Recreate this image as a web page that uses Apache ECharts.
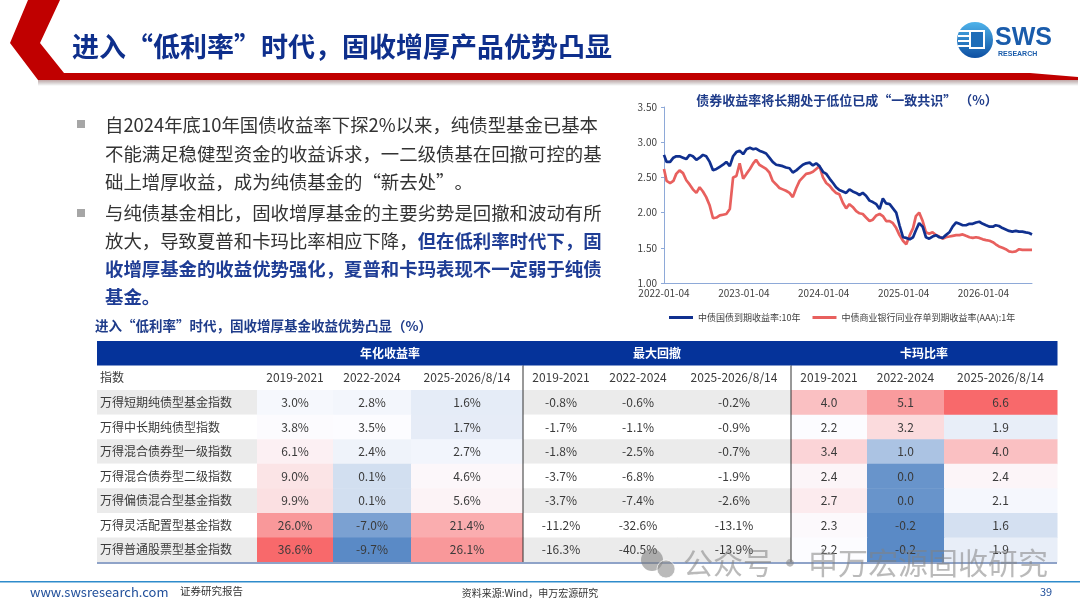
<!DOCTYPE html>
<html>
<head>
<meta charset="utf-8">
<script src="https://cdn.jsdelivr.net/npm/echarts@6/dist/echarts.min.js"></script>
<style>
  html, body { margin: 0; padding: 0; background: #fff; }
  #main { width: 1080px; height: 608px; }
</style>
</head>
<body>
<div id="main"></div>
<script>
const CJK = "'Noto Sans CJK SC', 'Noto Sans', sans-serif";

// line chart: half-monthly readings of the two yield curves (%)
const rateDates = [
  '2022-01-04','2022-01-16','2022-02-01','2022-02-16','2022-03-01','2022-03-16','2022-04-01','2022-04-16','2022-05-01','2022-05-16','2022-06-01','2022-06-16',
  '2022-07-01','2022-07-16','2022-08-01','2022-08-16','2022-09-01','2022-09-16','2022-10-01','2022-10-16','2022-11-01','2022-11-16','2022-12-01','2022-12-16',
  '2023-01-01','2023-01-16','2023-02-01','2023-02-16','2023-03-01','2023-03-16','2023-04-01','2023-04-16','2023-05-01','2023-05-16','2023-06-01','2023-06-16',
  '2023-07-01','2023-07-16','2023-08-01','2023-08-16','2023-09-01','2023-09-16','2023-10-01','2023-10-16','2023-11-01','2023-11-16','2023-12-01','2023-12-16',
  '2024-01-01','2024-01-16','2024-02-01','2024-02-16','2024-03-01','2024-03-16','2024-04-01','2024-04-16','2024-05-01','2024-05-16','2024-06-01','2024-06-16',
  '2024-07-01','2024-07-16','2024-08-01','2024-08-16','2024-09-01','2024-09-16','2024-10-01','2024-10-16','2024-11-01','2024-11-16','2024-12-01','2024-12-16',
  '2025-01-01','2025-01-16','2025-02-01','2025-02-16','2025-03-01','2025-03-16','2025-04-01','2025-04-16','2025-05-01','2025-05-16','2025-06-01','2025-06-16',
  '2025-07-01','2025-07-16','2025-08-01','2025-08-16','2025-09-01','2025-09-16','2025-10-01','2025-10-16','2025-11-01','2025-11-16','2025-12-01','2025-12-16',
  '2026-01-01','2026-01-16','2026-02-01','2026-02-16','2026-03-01','2026-03-16','2026-04-01','2026-04-16','2026-05-01','2026-05-16','2026-06-01','2026-06-16',
  '2026-07-01','2026-07-16','2026-08-01','2026-08-14'
];
const cgb10y = [
  2.82,2.72,2.72,2.78,2.80,2.80,2.78,2.76,2.82,2.80,2.75,2.78,2.82,2.80,2.72,2.60,2.62,2.65,2.68,2.72,2.66,2.80,2.86,2.88,
  2.83,2.90,2.92,2.90,2.91,2.88,2.86,2.84,2.78,2.72,2.68,2.67,2.66,2.64,2.63,2.57,2.60,2.64,2.68,2.70,2.71,2.67,2.70,2.66,
  2.58,2.55,2.48,2.42,2.36,2.32,2.30,2.28,2.33,2.30,2.28,2.25,2.28,2.24,2.17,2.15,2.12,2.05,2.20,2.13,2.12,2.06,2.00,1.82,
  1.65,1.64,1.62,1.65,1.75,1.85,1.80,1.65,1.63,1.66,1.68,1.65,1.64,1.68,1.72,1.80,1.86,1.84,1.82,1.82,1.84,1.84,1.86,1.87,
  1.84,1.82,1.80,1.80,1.82,1.81,1.78,1.76,1.74,1.73,1.74,1.73,1.73,1.72,1.71,1.69
];
const ncd1y = [
  2.62,2.45,2.42,2.45,2.55,2.60,2.56,2.46,2.40,2.33,2.28,2.36,2.30,2.22,2.10,1.92,1.93,1.96,1.97,1.98,2.05,2.50,2.52,2.70,
  2.48,2.55,2.62,2.70,2.75,2.68,2.65,2.62,2.57,2.45,2.40,2.35,2.33,2.31,2.28,2.22,2.35,2.45,2.50,2.55,2.56,2.58,2.62,2.66,
  2.50,2.42,2.38,2.32,2.28,2.26,2.14,2.06,2.12,2.08,2.02,1.99,1.98,1.93,1.88,1.90,1.96,1.98,1.95,1.88,1.88,1.85,1.78,1.68,
  1.60,1.55,1.68,1.78,1.95,2.00,1.88,1.72,1.70,1.72,1.68,1.66,1.63,1.65,1.66,1.67,1.68,1.68,1.69,1.67,1.65,1.64,1.65,1.64,
  1.62,1.61,1.60,1.58,1.55,1.52,1.50,1.48,1.45,1.44,1.45,1.48,1.47,1.47,1.47,1.47
];
const seriesNames = ['中债国债到期收益率:10年', '中债商业银行同业存单到期收益率(AAA):1年'];
const xTickLabels = ['2022-01-04', '2023-01-04', '2024-01-04', '2025-01-04', '2026-01-04'];
const yMin = 1, yMax = 3.5, yStep = 0.5;

// table
const groupNames = ['年化收益率', '最大回撤', '卡玛比率'];
const periods = ['2019-2021', '2022-2024', '2025-2026/8/14'];
const indexNames = ['万得短期纯债型基金指数', '万得中长期纯债型指数', '万得混合债券型一级指数', '万得混合债券型二级指数',
  '万得偏债混合型基金指数', '万得灵活配置型基金指数', '万得普通股票型基金指数'];
const annualReturn = [[3.0, 2.8, 1.6], [3.8, 3.5, 1.7], [6.1, 2.4, 2.7], [9.0, 0.1, 4.6], [9.9, 0.1, 5.6], [26.0, -7.0, 21.4], [36.6, -9.7, 26.1]];
const maxDrawdown = [[-0.8, -0.6, -0.2], [-1.7, -1.1, -0.9], [-1.8, -2.5, -0.7], [-3.7, -6.8, -1.9], [-3.7, -7.4, -2.6], [-11.2, -32.6, -13.1], [-16.3, -40.5, -13.9]];
const calmarRatio = [[4.0, 5.1, 6.6], [2.2, 3.2, 1.9], [3.4, 1.0, 4.0], [2.4, 0.0, 2.4], [2.7, 0.0, 2.1], [2.3, -0.2, 1.6], [2.2, -0.2, 1.9]];

// table layout (px inside the table)
const colEdges = [0, 160, 236, 314, 426, 502, 580, 694, 770, 847, 960];
const groupStart = [1, 4, 7];
const heatColors = ['#5A8AC6', '#FCFCFF', '#F8696B'];

// 3-colour scale with the median as white point
function midScale(values) {
  const s = values.slice().sort((a, b) => a - b);
  const lo = s[0], hi = s[s.length - 1], n = s.length;
  const mid = n % 2 ? s[(n - 1) / 2] : (s[n / 2 - 1] + s[n / 2]) / 2;
  return v => v <= mid ? 0.5 * (v - lo) / (mid - lo) : 0.5 + 0.5 * (v - mid) / (hi - mid);
}
const retScale = midScale(annualReturn.flat());
const calScale = midScale(calmarRatio.flat());

const xStart = Date.parse(rateDates[0]);
const xEnd = Date.parse(rateDates[rateDates.length - 1]);
const yearMs = 365.25 * 24 * 3600 * 1000;

function box(api, c0, c1, row, rows) {
  const p0 = api.coord([colEdges[c0], row]);
  const p1 = api.coord([colEdges[c1], row + (rows || 1)]);
  return { x: p0[0], y: p0[1], width: p1[0] - p0[0], height: p1[1] - p0[1] };
}
function label(b, text, opt) {
  opt = opt || {};
  const left = opt.align === 'left';
  return {
    type: 'text',
    style: {
      text: text,
      x: left ? b.x + 3 : b.x + b.width / 2,
      y: b.y + b.height / 2,
      align: left ? 'left' : 'center', textAlign: left ? 'left' : 'center',
      verticalAlign: 'middle', textVerticalAlign: 'middle',
      fill: opt.color || '#3a3a3a',
      font: (opt.weight || 'normal') + ' ' + (opt.size || 12) + 'px ' + CJK
    }
  };
}
function tableSeries(data, renderItem) {
  return {
    type: 'custom', coordinateSystem: 'cartesian2d', xAxisIndex: 1, yAxisIndex: 1,
    encode: { x: 0, y: 1 }, silent: true, clip: false, data: data, renderItem: renderItem
  };
}

const bandData = groupNames.map((g, i) => [i, 0]);
const headText = ['指数'].concat(periods, periods, periods);
const headData = headText.map((t, i) => [i, 1]);
const nameData = indexNames.map((n, r) => [0, r + 2]);
const retData = [], ddData = [], calData = [];
annualReturn.forEach((row, r) => row.forEach((v, c) => retData.push([1 + c, r + 2, v, retScale(v)])));
maxDrawdown.forEach((row, r) => row.forEach((v, c) => ddData.push([4 + c, r + 2, v])));
calmarRatio.forEach((row, r) => row.forEach((v, c) => calData.push([7 + c, r + 2, v, calScale(v)])));

const stripe = row => (row % 2 === 0 ? '#EBEBEB' : '#FFFFFF');

const option = {
  animation: false,
  backgroundColor: '#ffffff',
  grid: [
    { left: 664, top: 107, width: 368, height: 176 },
    { left: 97, top: 341, width: 960, height: 221 }
  ],
  xAxis: [
    {
      type: 'value', gridIndex: 0, min: xStart, max: xEnd, interval: yearMs,
      axisLine: { lineStyle: { color: '#8EA9D8', width: 1 } },
      axisTick: { show: false },
      splitLine: { show: false },
      axisLabel: {
        color: '#404040', fontSize: 10, fontFamily: CJK, margin: 5, showMaxLabel: false,
        formatter: v => xTickLabels[Math.round((v - xStart) / yearMs)] || ''
      }
    },
    { type: 'value', gridIndex: 1, min: 0, max: 960, show: false }
  ],
  yAxis: [
    {
      type: 'value', gridIndex: 0, min: yMin, max: yMax, interval: yStep,
      axisLine: { show: true, lineStyle: { color: '#8EA9D8', width: 1 } },
      axisTick: { show: true, length: 3, lineStyle: { color: '#8EA9D8' } },
      splitLine: { show: false },
      axisLabel: { color: '#404040', fontSize: 10, fontFamily: CJK, margin: 7, formatter: v => v.toFixed(2) }
    },
    { type: 'value', gridIndex: 1, min: 0, max: 9, inverse: true, show: false }
  ],
  legend: {
    data: seriesNames, left: 664, top: 308, icon: 'rect', itemWidth: 24, itemHeight: 3, itemGap: 12,
    textStyle: { fontSize: 9, color: '#404040', fontFamily: CJK }
  },
  visualMap: [
    { type: 'continuous', show: false, seriesIndex: 5, dimension: 3, min: 0, max: 1, inRange: { color: heatColors } },
    { type: 'continuous', show: false, seriesIndex: 7, dimension: 3, min: 0, max: 1, inRange: { color: heatColors } }
  ],
  series: [
    {
      name: seriesNames[0], type: 'line', xAxisIndex: 0, yAxisIndex: 0, showSymbol: false, symbol: 'none',
      lineStyle: { color: '#10308F', width: 2.7 }, itemStyle: { color: '#10308F' }, z: 4,
      data: rateDates.map((d, i) => [Date.parse(d), cgb10y[i]])
    },
    {
      name: seriesNames[1], type: 'line', xAxisIndex: 0, yAxisIndex: 0, showSymbol: false, symbol: 'none',
      lineStyle: { color: '#E8605E', width: 2.7 }, itemStyle: { color: '#E8605E' }, z: 3,
      data: rateDates.map((d, i) => [Date.parse(d), ncd1y[i]])
    },
    tableSeries(bandData, function (params, api) {
      const g = api.value(0), gs = groupStart[g];
      const full = box(api, g === 0 ? 0 : gs, gs + 3, 0);
      const b = box(api, gs, gs + 3, 0);
      return { type: 'group', children: [
        { type: 'rect', shape: { x: full.x, y: full.y, width: full.width + 0.5, height: full.height }, style: { fill: '#05339A' } },
        label(b, groupNames[g], { color: '#ffffff', weight: 'bold', size: 12 })
      ] };
    }),
    tableSeries(headData, function (params, api) {
      const c = api.value(0);
      const b = box(api, c, c + 1, 1);
      return label(b, headText[params.dataIndex], { align: c === 0 ? 'left' : 'center', size: 12 });
    }),
    tableSeries(nameData, function (params, api) {
      const row = api.value(1);
      const b = box(api, 0, 1, row);
      return { type: 'group', children: [
        { type: 'rect', shape: b, style: { fill: stripe(row) } },
        label(b, indexNames[params.dataIndex], { align: 'left', size: 12 })
      ] };
    }),
    tableSeries(retData, function (params, api) {
      const c = api.value(0), row = api.value(1);
      const b = box(api, c, c + 1, row);
      return { type: 'group', children: [
        { type: 'rect', shape: { x: b.x, y: b.y, width: b.width + 0.5, height: b.height + 0.5 }, style: { fill: api.visual('color') } },
        label(b, api.value(2).toFixed(1) + '%')
      ] };
    }),
    tableSeries(ddData, function (params, api) {
      const c = api.value(0), row = api.value(1);
      const b = box(api, c, c + 1, row);
      return { type: 'group', children: [
        { type: 'rect', shape: { x: b.x, y: b.y, width: b.width + 0.5, height: b.height }, style: { fill: stripe(row) } },
        label(b, api.value(2).toFixed(1) + '%')
      ] };
    }),
    tableSeries(calData, function (params, api) {
      const c = api.value(0), row = api.value(1);
      const b = box(api, c, c + 1, row);
      return { type: 'group', children: [
        { type: 'rect', shape: { x: b.x, y: b.y, width: b.width + 0.5, height: b.height + 0.5 }, style: { fill: api.visual('color') } },
        label(b, api.value(2).toFixed(1))
      ] };
    }),
    tableSeries([[4, 1], [7, 1], [0, 9]], function (params, api) {
      const c = api.value(0), row = api.value(1);
      if (row === 9) {
        const a = api.coord([colEdges[0], 9]), z = api.coord([colEdges[colEdges.length - 1], 9]);
        return { type: 'line', shape: { x1: a[0], y1: a[1] + 1, x2: z[0], y2: z[1] + 1 }, style: { stroke: '#8FA3C8', lineWidth: 2 } };
      }
      const a = api.coord([colEdges[c], 1]), z = api.coord([colEdges[c], 9]);
      return { type: 'line', shape: { x1: a[0], y1: a[1], x2: z[0], y2: z[1] }, style: { stroke: '#333333', lineWidth: 1 } };
    })
  ],
  graphic: [
    // header decoration
    { type: 'polygon', shape: { points: [[28, 0], [60, 0], [40, 43], [64, 73], [1030, 73], [1078, 77], [1078, 80], [38, 80], [10, 43]] }, style: { fill: '#C00000' } },
    { type: 'rect', shape: { x: 38, y: 80, width: 1040, height: 6 }, style: { fill: { type: 'linear', x: 0, y: 0, x2: 0, y2: 1, colorStops: [{ offset: 0, color: 'rgba(80,0,0,0.35)' }, { offset: 1, color: 'rgba(0,0,0,0)' }] } } },
    { type: 'text', style: { text: '进入“低利率”时代，固收增厚产品优势凸显', x: 72, y: 47, align: 'left', textAlign: 'left', verticalAlign: 'middle', textVerticalAlign: 'middle', font: 'bold 27px ' + CJK, fill: '#0E2F8C' } },
    // logo
    { type: 'circle', shape: { cx: 975, cy: 40, r: 18 }, style: { fill: { type: 'linear', x: 0, y: 0, x2: 0, y2: 1, colorStops: [{ offset: 0, color: '#4FB3EA' }, { offset: 1, color: '#0D4FA2' }] } } },
    { type: 'rect', shape: { x: 958, y: 30, width: 14, height: 2 }, style: { fill: '#ffffff' } },
    { type: 'rect', shape: { x: 958, y: 35, width: 14, height: 2 }, style: { fill: '#ffffff' } },
    { type: 'rect', shape: { x: 958, y: 40, width: 14, height: 2 }, style: { fill: '#ffffff' } },
    { type: 'rect', shape: { x: 958, y: 45, width: 14, height: 2 }, style: { fill: '#ffffff' } },
    { type: 'rect', shape: { x: 970, y: 31, width: 14, height: 17 }, style: { fill: '#1E6DB8', stroke: '#ffffff', lineWidth: 2 } },
    { type: 'text', style: { text: 'SWS', x: 995, y: 38, align: 'left', textAlign: 'left', verticalAlign: 'middle', textVerticalAlign: 'middle', font: 'bold 25px Liberation Sans, Arial, sans-serif', fill: '#1A5CAB' } },
    { type: 'text', style: { text: 'RESEARCH', x: 998, y: 54, align: 'left', textAlign: 'left', verticalAlign: 'middle', textVerticalAlign: 'middle', font: 'bold 7px Liberation Sans, Arial, sans-serif', fill: '#1A5CAB' } },
    // bullets
    { type: 'rect', shape: { x: 77, y: 120, width: 8, height: 8 }, style: { fill: '#A6A6A6' } },
    { type: 'rect', shape: { x: 77, y: 209, width: 8, height: 8 }, style: { fill: '#A6A6A6' } },
    {
      type: 'text', style: {
        text: '自2024年底10年国债收益率下探2%以来，纯债型基金已基本\n不能满足稳健型资金的收益诉求，一二级债基在回撤可控的基\n础上增厚收益，成为纯债基金的“新去处”。',
        x: 105, y: 111, align: 'left', textAlign: 'left', verticalAlign: 'top', textVerticalAlign: 'top',
        font: '18.4px ' + CJK, fill: '#333333', lineHeight: 28.5
      }
    },
    {
      type: 'text', style: {
        text: '与纯债基金相比，固收增厚基金的主要劣势是回撤和波动有所\n放大，导致夏普和卡玛比率相应下降，{b|但在低利率时代下，固}\n{b|收增厚基金的收益优势强化，夏普和卡玛表现不一定弱于纯债}\n{b|基金。}',
        x: 105, y: 199, align: 'left', textAlign: 'left', verticalAlign: 'top', textVerticalAlign: 'top',
        font: '18.4px ' + CJK, fill: '#333333', lineHeight: 28,
        rich: { b: { fontWeight: 'bold', fontSize: 18.4, fontFamily: CJK, fill: '#1F3D95', lineHeight: 28 } }
      }
    },
    // chart and table titles
    { type: 'text', style: { text: '债券收益率将长期处于低位已成“一致共识” （%）', x: 847, y: 100, align: 'center', textAlign: 'center', verticalAlign: 'middle', textVerticalAlign: 'middle', font: 'bold 13px ' + CJK, fill: '#1F3C8A' } },
    { type: 'text', style: { text: '进入“低利率”时代，固收增厚基金收益优势凸显（%）', x: 95, y: 326, align: 'left', textAlign: 'left', verticalAlign: 'middle', textVerticalAlign: 'middle', font: 'bold 13.5px ' + CJK, fill: '#1F3C8A' } },
    // footer
    { type: 'rect', shape: { x: 0, y: 581, width: 1080, height: 1.5 }, style: { fill: '#2E8BCB' } },
    { type: 'text', style: { text: 'www.swsresearch.com', x: 30, y: 592, align: 'left', textAlign: 'left', verticalAlign: 'middle', textVerticalAlign: 'middle', font: '13px ' + CJK, fill: '#1F4E9A' } },
    { type: 'text', style: { text: '证券研究报告', x: 180, y: 591, align: 'left', textAlign: 'left', verticalAlign: 'middle', textVerticalAlign: 'middle', font: '10.5px ' + CJK, fill: '#333333' } },
    { type: 'text', style: { text: '资料来源:Wind，申万宏源研究', x: 530, y: 593, align: 'center', textAlign: 'center', verticalAlign: 'middle', textVerticalAlign: 'middle', font: '10px ' + CJK, fill: '#333333' } },
    { type: 'text', style: { text: '39', x: 1046, y: 592, align: 'center', textAlign: 'center', verticalAlign: 'middle', textVerticalAlign: 'middle', font: '11px ' + CJK, fill: '#1F4E9A' } },
    // watermark overlay
    { type: 'circle', z: 100, shape: { cx: 652, cy: 560, r: 11 }, style: { fill: 'rgba(120,120,120,0.55)' } },
    { type: 'circle', z: 101, shape: { cx: 666, cy: 569, r: 9 }, style: { fill: 'rgba(140,140,140,0.6)', stroke: 'rgba(255,255,255,0.7)', lineWidth: 1 } },
    { type: 'text', z: 100, style: { text: '公众号', x: 683, y: 563, align: 'left', textAlign: 'left', verticalAlign: 'middle', textVerticalAlign: 'middle', font: '30px ' + CJK, fill: 'rgba(130,130,130,0.55)' } },
    { type: 'text', z: 100, style: { text: '·', x: 790, y: 563, align: 'center', textAlign: 'center', verticalAlign: 'middle', textVerticalAlign: 'middle', font: 'bold 30px ' + CJK, fill: 'rgba(130,130,130,0.55)' } },
    { type: 'text', z: 100, style: { text: '申万宏源固收研究', x: 808, y: 563, align: 'left', textAlign: 'left', verticalAlign: 'middle', textVerticalAlign: 'middle', font: '30px ' + CJK, fill: 'rgba(130,130,130,0.55)' } }
  ]
};

const chart = echarts.init(document.getElementById('main'));
chart.setOption(option);
</script>
</body>
</html>
